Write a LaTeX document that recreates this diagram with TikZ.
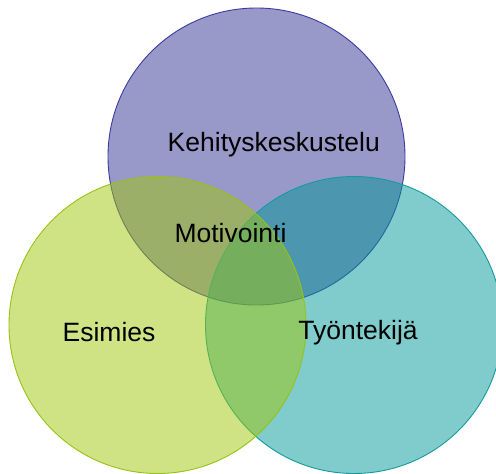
\documentclass[tikz,border=0pt]{standalone}
\usepackage{fontspec}
\setmainfont{Liberation Sans}
\definecolor{pfill}{RGB}{49,49,147}
\definecolor{tfill}{RGB}{1,151,151}
\definecolor{gfill}{RGB}{159,199,9}
\definecolor{pline}{RGB}{60,60,160}
\definecolor{tline}{RGB}{20,155,160}
\definecolor{gline}{RGB}{150,195,20}
\begin{document}
\begin{tikzpicture}[x=1pt,y=-1pt,
  venn/.style={circle,minimum size=297pt,inner sep=0pt,fill opacity=0.5,line width=0.9pt},
  lbl/.style={anchor=base,inner sep=0pt,font=\fontsize{26.5}{31}\selectfont,text=black}]
\useasboundingbox (0,0) rectangle (496,474);
\node[venn,fill=pfill,draw=pline] (top) at (256.5,156.5) {};
\node[venn,fill=tfill,draw=tline] (right) at (354,325) {};
\node[venn,fill=gfill,draw=gline] (left) at (157.5,325) {};
\node[lbl] (k) at (273.8,151.7) {Kehityskeskustelu};
\node[lbl] (m) at (230.5,242.3) {Motivointi};
\node[lbl] (e) at (109,341) {Esimies};
\node[lbl] (t) at (358,339.3) {Työntekijä};
\end{tikzpicture}
\end{document}
